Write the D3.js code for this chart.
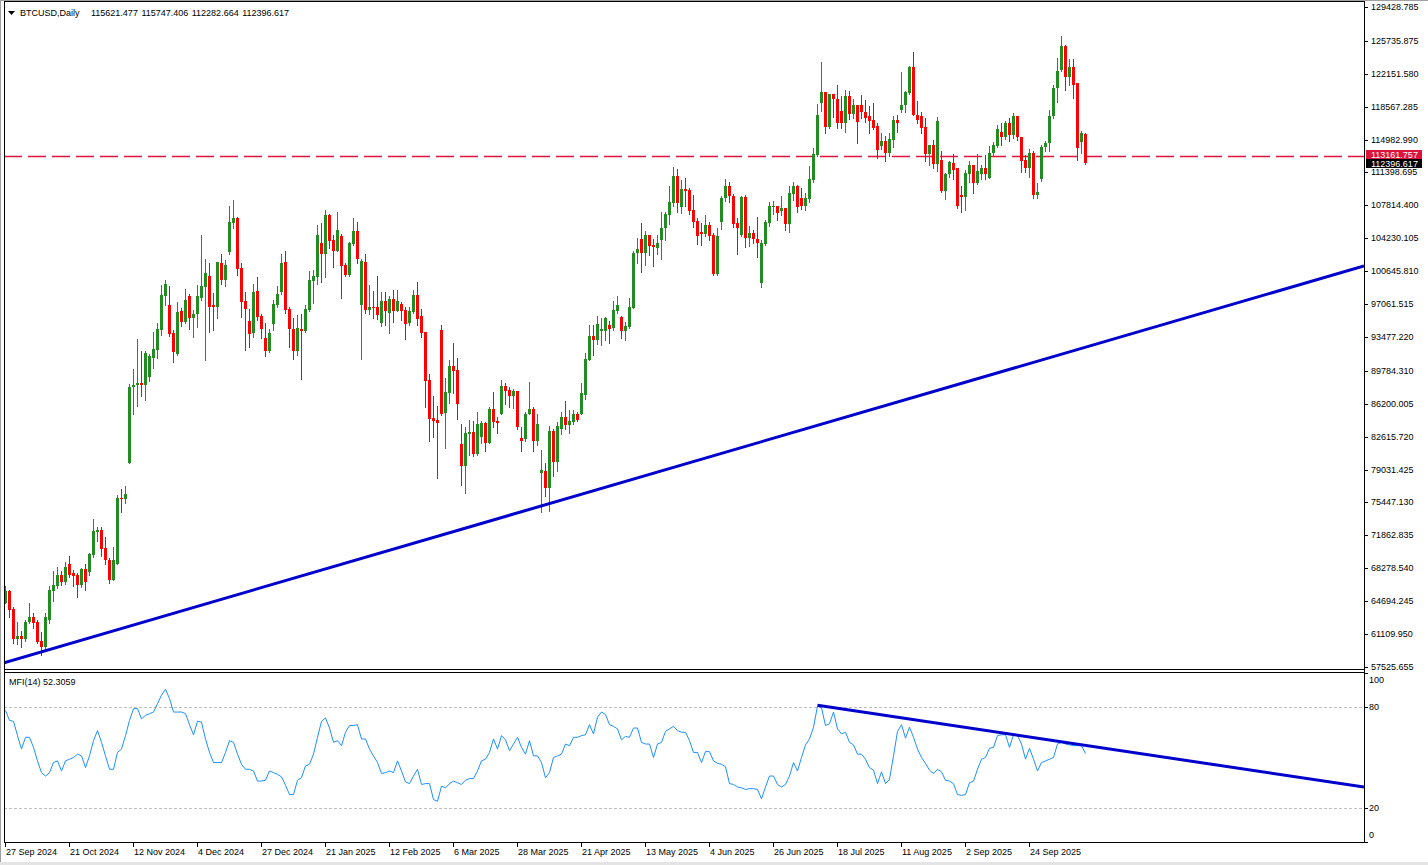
<!DOCTYPE html>
<html>
<head>
<meta charset="utf-8">
<script src="https://cdn.jsdelivr.net/npm/d3@7"></script>
<style>
body { margin: 0; background: #fff; }
svg text { font-family: "Liberation Sans", Arial, sans-serif; font-size: 9px; fill: #000; }
</style>
</head>
<body>
<div id="chart"></div>
<script>
var symbolTitle = "BTCUSD,Daily";
var lastBar = [115621.477, 115747.406, 112282.664, 112396.617];
var priceUnit = 1000;

var opens = [
    64.5,65.8,63.8,60.6,60.9,60.6,62.4,63.0,62.4,60.4,
    59.7,62.6,65.8,66.3,67.6,66.8,68.7,67.8,67.6,66.5,
    68.2,67.9,69.7,72.2,72.4,70.5,69.2,67.0,68.8,75.9,
    75.8,79.8,88.0,88.2,88.5,88.2,89.1,91.2,92.1,94.2,
    97.9,97.0,93.9,91.6,96.3,95.1,97.9,95.5,96.0,97.7,
    98.9,100.1,97.0,96.7,101.5,99.7,102.7,105.9,106.4,101.0,
    97.4,95.2,93.9,98.5,95.8,93.4,91.9,94.9,97.0,98.4,
    101.6,96.5,94.4,92.0,94.3,94.1,96.4,99.6,100.0,103.7,
    102.5,106.8,104.0,102.9,104.5,101.3,100.2,103.6,105.0,97.0,
    101.7,96.4,96.8,96.8,95.0,97.4,96.1,97.6,96.3,97.1,
    96.4,95.0,96.2,98.0,95.8,94.0,88.8,84.6,84.4,94.2,
    85.2,87.4,90.3,89.9,81.8,79.4,82.9,83.1,80.7,82.6,
    84.1,81.9,85.6,84.3,85.1,88.1,87.7,87.0,87.6,82.5,
    82.4,85.1,85.6,82.2,78.7,78.9,77.0,83.2,79.9,83.4,
    84.8,83.9,84.2,85.1,85.1,87.2,91.0,93.6,93.2,94.1,
    94.1,94.8,94.5,96.3,95.7,94.1,94.6,96.6,102.6,104.2,
    102.6,104.6,103.5,103.2,104.0,105.4,106.8,108.1,111.0,107.6,
    109.6,109.5,107.3,106.1,104.9,104.7,105.7,104.6,100.3,106.0,
    108.6,109.9,108.8,105.9,104.6,108.75,104.3,104.8,104.2,99.4,
    103.6,105.9,107.7,107.7,107.2,107.5,105.8,109.1,109.9,108.6,
    107.7,108.5,110.6,113.3,119.0,120.2,116.4,120.0,119.4,118.1,
    116.8,119.7,117.8,118.7,118.7,118.0,117.5,117.1,116.5,114.3,
    114.8,113.5,114.9,117.1,118.2,118.7,120.1,122.9,117.7,117.5,
    116.4,113.4,114.4,112.3,112.75,109.4,111.2,112.4,111.9,109.0,
    108.75,111.2,112.2,110.3,111.2,111.85,110.8,113.5,114.3,115.8,
    115.3,116.8,115.5,117.5,115.3,112.75,111.9,113.5,109.0,110.7,
    114.13,114.6,117.5,120.6,122.6,125.2,121.8,122.9,121.1,114.7,
    115.621477
];
var highs = [
    66.4,65.9,64.1,62.4,61.4,62.6,64.5,63.4,62.6,61.3,
    63.4,66.3,68.0,68.4,68.0,69.0,69.6,68.1,67.8,68.3,
    68.8,69.9,73.6,72.8,72.8,71.7,69.4,70.6,76.3,76.9,
    77.2,88.4,90.0,93.3,91.9,92.0,91.6,94.0,95.0,99.1,
    99.7,99.0,94.2,97.3,96.6,98.7,98.2,96.4,99.1,104.6,
    102.0,101.5,98.3,101.7,102.5,101.9,107.8,108.4,106.6,101.5,
    98.4,96.5,99.2,100.0,96.0,95.0,94.4,97.5,99.0,102.5,
    102.8,96.8,95.5,95.9,96.0,97.0,100.7,100.8,105.7,105.9,
    107.3,106.9,104.6,107.1,104.7,101.5,103.8,106.4,106.0,102.0,
    102.5,99.1,98.5,100.1,98.4,98.4,97.9,98.6,98.6,97.3,
    96.8,96.8,98.6,99.5,96.5,94.0,89.4,87.0,86.0,94.8,
    89.0,91.0,92.8,91.2,84.0,83.7,84.4,84.3,85.3,84.3,
    84.2,85.9,87.5,84.8,88.8,88.5,88.0,87.8,87.6,83.7,
    85.3,88.6,85.8,85.1,81.2,79.8,83.8,83.5,84.2,85.3,
    86.5,85.5,85.5,85.3,88.5,91.7,94.8,94.8,95.8,95.5,
    95.7,95.2,97.4,97.9,95.8,95.1,97.7,102.8,104.3,105.9,
    105.0,104.6,104.1,104.6,107.1,107.1,109.9,112.0,111.8,110.6,
    110.8,109.7,108.9,106.4,105.9,106.8,106.0,104.8,105.3,108.8,
    110.7,110.4,109.1,106.4,108.8,108.9,105.6,105.1,106.6,104.0,
    106.2,108.2,108.3,107.7,108.8,107.5,109.9,110.4,110.0,109.7,
    109.2,112.1,114.1,118.9,123.4,120.2,120.0,120.0,120.9,119.7,
    120.4,120.3,119.4,118.7,119.8,119.3,118.6,119.0,116.8,115.7,
    115.4,115.7,117.6,117.7,122.4,120.3,123.0,124.5,119.2,118.0,
    117.3,114.4,114.9,117.4,113.7,111.3,112.6,113.4,111.9,109.9,
    111.7,112.6,112.2,113.4,112.2,113.3,114.3,114.7,116.6,116.75,
    117.0,117.3,117.9,117.5,115.3,113.3,114.0,113.7,110.3,114.4,
    114.8,118.2,120.9,123.9,126.3,125.3,123.8,123.76,121.1,115.9,
    115.747406
];
var lows = [
    64.5,63.0,60.1,60.0,59.7,60.4,62.3,61.8,60.1,58.8,
    59.5,62.3,64.7,66.1,66.5,66.6,67.3,66.4,65.2,66.2,
    65.9,67.5,69.5,71.3,69.6,68.8,66.7,67.0,68.7,74.4,
    75.4,79.8,85.1,86.0,87.0,86.6,88.7,90.1,91.2,93.7,
    97.0,93.6,90.8,91.5,94.7,95.0,94.3,93.5,94.6,97.5,
    91.0,94.0,94.2,95.6,99.2,99.0,102.5,105.4,100.2,95.7,
    92.1,92.4,93.5,95.3,93.4,91.4,91.8,94.2,96.8,98.2,
    96.1,92.4,91.1,91.5,88.9,94.0,96.3,97.2,99.3,99.5,
    100.0,103.2,101.1,102.9,97.7,100.1,100.1,103.5,101.5,91.1,
    96.1,96.0,95.6,95.4,94.7,94.8,93.9,95.1,96.3,95.3,
    93.3,94.8,96.1,94.8,93.5,85.9,82.1,82.6,78.1,85.0,
    81.4,86.3,87.4,84.5,77.3,76.5,80.6,80.5,80.6,81.9,
    81.1,81.9,83.7,83.0,85.1,86.2,85.9,85.7,83.4,81.1,
    82.2,85.1,81.1,81.7,74.4,76.2,74.5,78.3,78.9,82.9,
    83.4,83.0,84.0,84.3,85.1,86.7,91.0,91.5,92.7,92.6,
    93.2,92.8,94.2,96.1,93.4,93.2,94.5,96.6,101.5,100.6,
    101.3,102.4,101.2,102.5,102.0,104.0,105.8,107.7,107.1,107.0,
    107.7,106.9,105.5,103.6,103.5,104.5,104.0,100.2,100.2,105.2,
    108.3,108.2,105.5,102.5,104.5,103.3,103.4,103.7,102.2,98.9,
    103.5,105.6,106.9,106.2,106.8,105.1,104.9,108.4,107.1,107.4,
    107.3,108.2,110.4,113.2,118.1,115.7,116.3,117.4,116.3,116.3,
    115.8,117.2,117.3,114.6,117.3,116.9,115.7,116.1,113.0,114.0,
    112.6,113.2,114.2,115.8,118.0,118.0,120.0,117.7,116.8,115.7,
    112.7,112.2,111.9,111.6,109.3,108.5,110.9,110.7,107.5,107.1,
    107.3,110.4,109.2,110.1,110.65,110.65,110.8,113.3,114.2,114.4,
    115.1,114.85,115.2,114.9,111.5,111.4,110.9,108.6,108.6,110.5,
    113.7,113.7,117.3,119.1,122.5,120.4,120.9,119.5,112.8,113.5,
    112.282664
];
var closes = [
    65.8,63.7,60.6,60.9,60.6,62.4,63.0,62.3,60.2,59.7,
    63.0,65.9,66.5,67.6,66.8,68.4,67.6,67.4,66.5,68.2,
    66.8,69.8,72.3,72.4,70.4,69.2,67.0,69.2,75.9,75.8,
    76.4,88.0,88.3,88.5,88.2,91.7,91.4,92.2,94.3,98.0,
    99.3,93.8,91.8,96.2,95.1,97.5,95.5,96.0,97.9,99.0,
    100.4,96.8,96.7,101.6,99.7,101.3,106.0,106.4,100.9,97.3,
    96.5,93.8,98.4,95.7,94.4,92.0,93.9,97.1,98.2,101.5,
    96.4,94.3,92.0,94.5,94.1,96.5,99.7,100.1,104.6,102.5,
    106.8,103.9,102.9,105.1,101.2,100.2,103.7,105.0,102.0,101.8,
    96.4,96.8,96.6,95.9,97.4,96.3,97.6,96.3,97.4,96.3,
    94.9,96.3,98.0,95.4,93.9,88.7,84.5,84.3,84.1,85.1,
    87.5,90.3,89.8,86.2,79.4,83.0,83.1,80.7,84.0,84.1,
    81.9,85.6,84.2,84.1,88.1,87.6,87.0,87.6,83.7,82.2,
    85.1,85.6,82.2,84.0,79.0,77.0,83.2,79.9,83.8,84.8,
    83.9,84.3,85.1,84.4,87.4,91.1,93.6,93.2,94.9,94.4,
    95.5,94.4,96.4,97.0,94.1,94.7,96.7,102.6,103.1,102.6,
    104.6,103.4,103.3,103.7,105.4,106.9,108.2,111.0,108.1,109.6,
    109.4,107.2,106.0,104.5,104.7,105.7,104.5,100.3,104.5,108.6,
    109.9,108.8,105.8,105.4,108.75,104.3,104.8,104.1,103.7,103.7,
    106.0,107.7,107.75,107.0,107.5,105.8,109.2,109.9,107.6,107.7,
    108.6,110.7,113.4,117.7,120.2,116.4,119.9,119.4,116.8,116.8,
    119.7,117.8,118.7,116.9,118.0,117.3,117.0,116.3,113.8,114.8,
    113.5,115.0,117.1,116.8,118.7,120.2,122.9,117.7,117.1,116.3,
    113.4,114.4,112.3,117.0,109.4,111.2,112.5,111.7,107.7,108.75,
    111.3,112.2,110.3,111.55,111.85,111.2,113.5,114.4,116.1,115.3,
    116.8,115.5,117.5,115.3,112.7,111.9,113.5,109.0,109.26,114.2,
    114.6,117.55,120.6,122.45,125.2,121.8,122.9,120.9,114.1,115.7,
    112.396617
];

var mfiLabel = "MFI(14) 52.3059";
var mfiValues = [
    78,72,71.5,63,55,62,62,56,48,41,
    39,41,47,48,42,48,49,50,52,51,
    44,51,60,66,59,51,43,43,53,55,
    63,72,79,79,73,75,76,77,82,87,
    90.5,85,77,77,77,76,69.5,63.5,71.5,71,
    61,53,47,47,47,53,60,59,52,46,
    43,43,42,36,36,36.5,42,41,40,38.5,
    33.5,28,28,36.5,38,45,46,52,62,71.5,
    73.5,67.5,59,60,57,65,69,69,69.5,61,
    61,55,51,47,40.5,41,42,41,48,42,
    35.5,34.5,39,43,34,34.5,34.5,25,24,33,
    32,34.5,36,35,34,36.5,37.5,37.5,42,48,
    49,53,61,55,63,60.5,54,58,62,56,
    52,60,51,51,47,38,41,50,51,52,
    58,57,62,62,63,63.5,69.5,64,74,77,
    75.5,69.5,68.5,67,60.5,62.5,62,67.5,67.5,59,
    58,58,50,58,59,65.5,67,68.5,66,65,
    65,60,53,53,47,53.5,53.5,48,46.5,46,
    44.5,34.5,34,32.5,32,31,31.5,31.5,31,25.5,
    32.5,39,39,34,32.5,34,39,47,42,50,
    57.5,61,68,80.5,79.5,69,70,77,67,64,
    65,59,57.5,52,52,49,44,42.5,34.5,41.5,
    34.5,37,51,65.5,69.5,61.5,68,62,55,50,
    46.5,42.5,40.5,43,41.5,36.5,36,34.5,28,27.5,
    28,35,36,43,49,50,55.5,56,63,63.5,
    63.5,56,63.5,63,58,49,55.5,49,42,47,
    48,49,50,58,59,58,57.5,57,57,57,
    52.3059
];

var priceTicks = [129428.785, 125735.875, 122151.580, 118567.285, 114982.990, 111398.695,
    107814.400, 104230.105, 100645.810, 97061.515, 93477.220, 89784.310, 86200.005,
    82615.720, 79031.425, 75447.130, 71862.835, 68278.540, 64694.245, 61109.950, 57525.655];
var mfiTicks = [100, 80, 20, 0];
var mfiLevels = [80, 20];
var dateLabels = ["27 Sep 2024", "21 Oct 2024", "12 Nov 2024", "4 Dec 2024", "27 Dec 2024",
    "21 Jan 2025", "12 Feb 2025", "6 Mar 2025", "28 Mar 2025", "21 Apr 2025", "13 May 2025",
    "4 Jun 2025", "26 Jun 2025", "18 Jul 2025", "11 Aug 2025", "2 Sep 2025", "24 Sep 2025"];
var dateStep = 16;
var priceLine = 113161.757;
var mainTrend = [[0, 58040], [270, 92370]];
var mfiTrend = [[203, 81.0], [270, 57.2]];

var width = 1428, height = 865;
var plot = {left: 4, right: 1364, mainTop: 1, mainBottom: 669, subTop: 672, subBottom: 842};
var bull = "#228b22", bear = "#ff0000", trendColor = "#0000cd";

var svg = d3.select("#chart").append("svg")
    .attr("width", width)
    .attr("height", height);

var x = d3.scaleLinear().domain([0, 340]).range([5.5, 1365.5]);
var y = d3.scaleLinear().domain(d3.extent(priceTicks)).range([667, 7]);
var ym = d3.scaleLinear().domain([0, 100]).range([841.7, 673.3]);
var fmt = d3.format(".3f");

var defs = svg.append("defs");
defs.append("clipPath").attr("id", "clipMain").append("rect")
    .attr("x", plot.left).attr("y", plot.mainTop)
    .attr("width", plot.right - plot.left).attr("height", plot.mainBottom - plot.mainTop);
defs.append("clipPath").attr("id", "clipSub").append("rect")
    .attr("x", plot.left).attr("y", plot.subTop)
    .attr("width", plot.right - plot.left).attr("height", plot.subBottom - plot.subTop);

svg.append("rect").attr("width", width).attr("height", height).attr("fill", "#fff");

var bars = d3.range(closes.length).map(function (i) {
    return {i: i, o: opens[i], h: highs[i], l: lows[i], c: closes[i]};
});

function extendLine(pts, b0, b1) {
    var slope = (pts[1][1] - pts[0][1]) / (pts[1][0] - pts[0][0]);
    return [[b0, pts[0][1] + slope * (b0 - pts[0][0])], [b1, pts[0][1] + slope * (b1 - pts[0][0])]];
}

// main panel
var main = svg.append("g").attr("clip-path", "url(#clipMain)");

main.append("line")
    .attr("x1", plot.left).attr("x2", plot.right)
    .attr("y1", Math.round(y(priceLine)) + 0.5).attr("y2", Math.round(y(priceLine)) + 0.5)
    .attr("stroke", "#e0163c")
    .attr("stroke-width", 1.3)
    .attr("stroke-dasharray", "18,6");

var candle = main.append("g")
    .attr("class", "candles")
    .attr("shape-rendering", "crispEdges")
    .selectAll("g")
    .data(bars).enter().append("g");

candle.append("line")
    .attr("x1", function (d) { return x(d.i); })
    .attr("x2", function (d) { return x(d.i); })
    .attr("y1", function (d) { return Math.round(y(d.h * priceUnit)); })
    .attr("y2", function (d) { return Math.round(y(d.l * priceUnit)) + 1; })
    .attr("stroke", function (d) { return d.c >= d.o ? bull : bear; })
    .attr("stroke-width", 1);

candle.append("rect")
    .attr("x", function (d) { return x(d.i) - 1.5; })
    .attr("width", 3)
    .attr("y", function (d) { return Math.round(y(Math.max(d.o, d.c) * priceUnit)); })
    .attr("height", function (d) {
        var top = Math.round(y(Math.max(d.o, d.c) * priceUnit));
        var bot = Math.round(y(Math.min(d.o, d.c) * priceUnit));
        return Math.max(1, bot - top);
    })
    .attr("fill", function (d) { return d.c >= d.o ? bull : bear; });

var mainLine = extendLine(mainTrend, x.invert(plot.left), x.invert(plot.right));
main.append("line")
    .attr("x1", x(mainLine[0][0])).attr("y1", y(mainLine[0][1]))
    .attr("x2", x(mainLine[1][0])).attr("y2", y(mainLine[1][1]))
    .attr("stroke", trendColor)
    .attr("stroke-width", 3);

// MFI panel
var sub = svg.append("g").attr("clip-path", "url(#clipSub)");

sub.selectAll("line.level")
    .data(mfiLevels).enter().append("line")
    .attr("class", "level")
    .attr("x1", plot.left).attr("x2", plot.right)
    .attr("y1", function (d) { return Math.round(ym(d)) + 0.5; })
    .attr("y2", function (d) { return Math.round(ym(d)) + 0.5; })
    .attr("stroke", "#c0c0c0")
    .attr("stroke-dasharray", "3,2");

sub.append("path")
    .datum(mfiValues)
    .attr("fill", "none")
    .attr("stroke", "#1e90ff")
    .attr("stroke-width", 1)
    .attr("d", d3.line()
        .x(function (d, i) { return x(i); })
        .y(function (d) { return ym(d); }));

var mfiLine = extendLine(mfiTrend, mfiTrend[0][0], x.invert(plot.right));
sub.append("line")
    .attr("x1", x(mfiLine[0][0])).attr("y1", ym(mfiLine[0][1]))
    .attr("x2", x(mfiLine[1][0])).attr("y2", ym(mfiLine[1][1]))
    .attr("stroke", trendColor)
    .attr("stroke-width", 3);

// frames
var frame = svg.append("g")
    .attr("stroke", "#000")
    .attr("shape-rendering", "crispEdges");
frame.append("line").attr("x1", plot.left + 0.5).attr("x2", plot.left + 0.5).attr("y1", plot.mainTop).attr("y2", plot.subBottom + 1);
frame.append("line").attr("x1", plot.right + 0.5).attr("x2", plot.right + 0.5).attr("y1", plot.mainTop).attr("y2", plot.subBottom + 1);
frame.append("line").attr("x1", plot.left).attr("x2", plot.right + 1).attr("y1", plot.mainTop + 0.5).attr("y2", plot.mainTop + 0.5);
frame.append("line").attr("x1", plot.left).attr("x2", plot.right + 1).attr("y1", plot.mainBottom + 0.5).attr("y2", plot.mainBottom + 0.5);
frame.append("line").attr("x1", plot.left).attr("x2", plot.right + 1).attr("y1", plot.subTop + 0.5).attr("y2", plot.subTop + 0.5);
frame.append("line").attr("x1", plot.left).attr("x2", plot.right + 1).attr("y1", plot.subBottom + 0.5).attr("y2", plot.subBottom + 0.5);

svg.append("line").attr("x1", 0.5).attr("x2", 0.5).attr("y1", 0).attr("y2", height)
    .attr("stroke", "#a0a0a0").attr("stroke-width", 1);
svg.append("line").attr("x1", 0).attr("x2", width).attr("y1", 0.5).attr("y2", 0.5)
    .attr("stroke", "#a0a0a0").attr("stroke-width", 1);
svg.append("rect").attr("x", 0).attr("y", 862).attr("width", width).attr("height", 3)
    .attr("fill", "#e4e4e4");

// price axis
var pAxis = svg.append("g");
pAxis.selectAll("line")
    .data(priceTicks).enter().append("line")
    .attr("x1", plot.right).attr("x2", plot.right + 4)
    .attr("y1", function (d) { return Math.round(y(d)) + 0.5; })
    .attr("y2", function (d) { return Math.round(y(d)) + 0.5; })
    .attr("stroke", "#000");
pAxis.selectAll("text")
    .data(priceTicks).enter().append("text")
    .attr("x", plot.right + 7)
    .attr("y", function (d) { return y(d) + 3; })
    .text(function (d) { return fmt(d); });

var closeY = Math.round(y(lastBar[3]));
svg.append("rect")
    .attr("x", plot.right + 2).attr("y", closeY - 4).attr("width", 56).attr("height", 9)
    .attr("fill", "#000");
svg.append("text")
    .attr("x", plot.right + 7).attr("y", closeY + 4)
    .style("fill", "#fff")
    .text(fmt(lastBar[3]));

var lineY = Math.round(y(priceLine));
svg.append("rect")
    .attr("x", plot.right + 2).attr("y", lineY - 6).attr("width", 56).attr("height", 9)
    .attr("fill", "#dc143c");
svg.append("text")
    .attr("x", plot.right + 7).attr("y", lineY + 2)
    .style("fill", "#fff")
    .text(fmt(priceLine));

// MFI axis
var mAxis = svg.append("g");
mAxis.selectAll("line")
    .data(mfiTicks).enter().append("line")
    .attr("x1", plot.right).attr("x2", plot.right + 4)
    .attr("y1", function (d) { return Math.round(ym(d)) + 0.5; })
    .attr("y2", function (d) { return Math.round(ym(d)) + 0.5; })
    .attr("stroke", "#000");
mAxis.selectAll("text")
    .data(mfiTicks).enter().append("text")
    .attr("x", plot.right + 5)
    .attr("y", function (d) { return Math.min(838, Math.max(683, ym(d) + 3)); })
    .text(function (d) { return d; });

// time axis
var tAxis = svg.append("g");
tAxis.selectAll("line")
    .data(dateLabels).enter().append("line")
    .attr("x1", function (d, k) { return x(k * dateStep); })
    .attr("x2", function (d, k) { return x(k * dateStep); })
    .attr("y1", plot.subBottom).attr("y2", plot.subBottom + 5)
    .attr("stroke", "#000");
tAxis.selectAll("text")
    .data(dateLabels).enter().append("text")
    .attr("x", function (d, k) { return x(k * dateStep) + 0.5; })
    .attr("y", 855)
    .text(function (d) { return d; });

// titles
svg.append("path")
    .attr("d", "M8,11L15,11L11.5,15Z")
    .attr("fill", "#000");
svg.append("text")
    .attr("x", 20).attr("y", 16)
    .text(symbolTitle);
svg.append("text")
    .attr("x", 91).attr("y", 16)
    .attr("word-spacing", 1)
    .text(lastBar.map(fmt).join(" "));
svg.append("text")
    .attr("x", 9).attr("y", 685)
    .text(mfiLabel);
</script>
</body>
</html>
